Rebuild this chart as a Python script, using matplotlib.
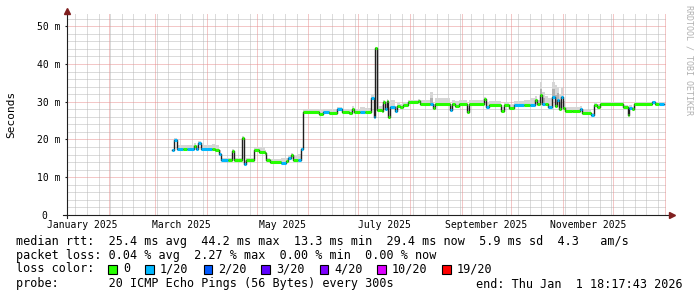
# -*- coding: utf-8 -*-
# smokeping style latency graph (last 360 days)
import numpy as np
import pandas as pd
import matplotlib
matplotlib.use('Agg')
import matplotlib.pyplot as plt
import matplotlib.dates as mdates
from matplotlib.patches import Rectangle

plt.rcParams['font.family'] = ['DejaVu Sans Mono']

# day = days since 2025-01-01 where a median level starts
day = [69.4, 70.6, 72.4, 76.0, 78.4, 82.1, 83.3, 84.5, 86.3, 92.9,
       94.7, 97.1, 98.3, 102.5, 104.9, 106.1, 110.9, 112.1, 113.3, 118.1,
       121.1, 124.7, 125.3, 127.7, 134.3, 137.3, 138.5, 140.3, 141.5, 145.1,
       146.9, 148.1,
       157.7, 160.1, 163.7, 168.5, 171.5, 175.7, 177.5, 178.7, 181.8, 184.8,
       188.4, 190.2, 190.8, 192.0, 195.0, 195.6, 196.8, 198.0, 198.6, 199.8,
       202.8, 204.0, 205.8, 207.6, 210.6, 216.6, 217.8, 223.8, 225.6, 226.8,
       235.8, 237.0, 238.8, 241.2, 246.6, 247.8, 256.8, 258.0, 259.8, 267.0,
       268.8, 271.8, 274.8, 280.8, 283.9, 286.9, 288.1, 289.9, 291.1, 292.9,
       294.7, 297.1, 298.9, 300.1, 301.3, 302.5, 303.7, 304.9, 309.1, 313.9,
       315.1, 320.5, 322.3, 324.1, 325.9, 339.7, 342.7, 343.9, 345.7, 346.9,
       357.7, 359.5, 361.9]
end_day = 364.9

# median rtt in ms
median_ms = [17.2, 19.8, 17.6, 17.6, 17.6, 18.3, 17.6, 19.1, 17.6, 17.6,
             17.3, 16.1, 14.5, 14.5, 16.9, 14.5, 20.5, 13.4, 14.5, 17.1,
             16.8, 16.3, 14.5, 14.1, 13.9, 14.3, 15.0, 15.9, 14.5, 14.5,
             17.4, 27.2,
             26.8, 27.2, 27.0, 28.0, 27.2, 27.0, 28.2, 27.2, 27.3, 27.3,
             31.1, 26.0, 44.1, 27.8, 27.6, 30.0, 28.0, 30.1, 26.0, 28.5,
             27.6, 28.9, 28.5, 29.2, 29.8, 30.2, 29.5, 29.5, 28.3, 29.5,
             27.8, 29.5, 29.0, 29.5, 27.3, 29.5, 30.6, 28.7, 29.2, 27.5,
             29.2, 28.3, 29.2, 29.2, 29.2, 30.4, 29.5, 31.7, 29.5, 29.5,
             28.6, 31.3, 29.0, 30.5, 28.0, 31.3, 28.3, 27.6, 27.5, 28.0,
             27.1, 26.5, 29.2, 28.7, 29.5, 28.7, 26.5, 28.3, 28.0, 29.5,
             29.8, 29.5, 29.5]

# lost pings out of 20
lost = [1, 1, 1, 0, 1, 0, 1, 1, 1, 0,
        0, 1, 1, 0, 0, 0, 0, 1, 0, 0,
        0, 0, 0, 0, 1, 0, 1, 0, 0, 1,
        1, 0,
        0, 1, 0, 1, 0, 0, 0, 0, 1, 0,
        1, 1, 0, 0, 0, 0, 1, 0, 0, 1,
        1, 0, 0, 0, 0, 0, 0, 1, 0, 0,
        1, 0, 0, 0, 0, 0, 0, 1, 0, 0,
        0, 0, 1, 0, 1, 0, 0, 0, 1, 0,
        1, 1, 0, 1, 0, 1, 0, 0, 0, 1,
        0, 1, 0, 0, 0, 0, 0, 1, 0, 0,
        1, 0, 1]

# spread of the other pings above the median (smoke), ms
smoke_ms = [0.3, 0.5, 1.0, 1.0, 1.0, 0.8, 1.0, 0.6, 1.0, 1.2,
            1.2, 1.0, 0.6, 0.5, 0.5, 0.6, 0.4, 0.8, 0.6, 1.0,
            1.2, 0.9, 0.5, 0.8, 1.2, 0.9, 0.8, 0.5, 1.0, 1.6,
            0.5, 0.8,
            1.0, 0.8, 1.2, 0.6, 1.0, 0.8, 0.6, 1.0, 1.3, 1.0,
            0.6, 0.8, 0.4, 1.0, 1.5, 0.5, 1.5, 0.5, 1.5, 2.0,
            1.2, 1.0, 0.8, 0.8, 0.6, 0.6, 1.0, 3.0, 1.0, 1.5,
            1.2, 1.0, 1.2, 1.0, 1.0, 1.0, 0.6, 1.2, 1.0, 1.2,
            0.8, 1.2, 1.0, 1.2, 1.8, 1.2, 1.0, 3.5, 3.0, 2.0,
            2.5, 4.0, 5.5, 3.5, 4.0, 2.5, 2.0, 1.0, 1.0, 0.8,
            0.8, 0.6, 0.6, 0.8, 0.4, 0.5, 0.5, 0.8, 0.5, 0.4,
            0.4, 0.4, 0.4]

loss_levels = ['0', '1/20', '2/20', '3/20', '4/20', '10/20', '19/20']
loss_colors = ['#26ff00', '#00b8ff', '#0059ff', '#5e00ff', '#7e00ff', '#dd00ff', '#ff0000']

month_labels = ['January 2025', 'March 2025', 'May 2025', 'July 2025',
                'September 2025', 'November 2025']
y_ticks = [0, 10, 20, 30, 40, 50]
y_labels = ['0  ', '10 m', '20 m', '30 m', '40 m', '50 m']

rtt_line = 'median rtt:  25.4 ms avg  44.2 ms max  13.3 ms min  29.4 ms now  5.9 ms sd  4.3   am/s'
loss_line = 'packet loss: 0.04 % avg  2.27 % max  0.00 % min  0.00 % now'
probe_line = 'probe:       20 ICMP Echo Pings (56 Bytes) every 300s'
end_text = 'end: Thu Jan  1 18:17:43 2026'

W, H = 697, 297
fig = plt.figure(figsize=(W / 100, H / 100), dpi=100)
fig.patch.set_facecolor('white')

# plot area in pixels
px_left, px_bottom, px_w, px_h = 66.5, 215, 599.4, 202
ax = fig.add_axes([px_left / W, (H - px_bottom) / H, px_w / W, px_h / H])
ax.set_facecolor('white')

base = mdates.date2num(pd.Timestamp('2025-01-01'))
t_end = mdates.date2num(pd.Timestamp('2026-01-01 18:17:43'))
t_start = t_end - 360

# dotted grid, 1px on / 1px off
grid_c, mgrid_c = '#b8b8b8', '#e89090'
gkw = dict(lw=0.72, dashes=(1, 1))
months = mdates.date2num(pd.date_range('2025-02-01', '2026-01-01', freq='MS'))
weeks = mdates.date2num(pd.date_range('2025-01-05', '2026-01-01', freq='W-SUN'))
for w in weeks:
    if w not in months:
        ax.axvline(w, color=grid_c, zorder=0, **gkw)
for yv in np.arange(2, 54, 2):
    if yv % 10:
        ax.axhline(yv, color=grid_c, zorder=0, **gkw)
for m in months:
    ax.axvline(m, color=mgrid_c, zorder=0.5, **gkw)
for yv in y_ticks[1:]:
    ax.axhline(yv, color=mgrid_c, zorder=0.5, **gkw)

# smoke + median
xs = np.array(day + [end_day]) + base
med = np.array(median_ms)
smk = np.array(smoke_ms)
med_e = np.append(med, med[-1])
smk_e = np.append(smk, smk[-1])
ax.fill_between(xs, med_e - 0.3, med_e + smk_e, step='post', color='#d6d6d6', lw=0, zorder=1)
dark = np.where(smk_e >= 3, med_e + smk_e * 0.5, med_e)
ax.fill_between(xs, med_e, dark, step='post', color='#b0b0b0', lw=0, zorder=1.1)
ax.step(xs, med_e, where='post', color='#202020', lw=1.0, zorder=2)
ax.hlines(med, xs[:-1], xs[1:], colors=[loss_colors[l] for l in lost], lw=2.2, zorder=3)

ax.set_xlim(t_start, t_end)
ax.set_ylim(0, 53.5)
for s in ax.spines.values():
    s.set_visible(False)

# month labels centred in their month
lab_pos = []
for name in month_labels:
    m0 = pd.Timestamp(name)
    lab_pos.append(mdates.date2num(m0) + m0.days_in_month / 2)
ax.set_xticks(lab_pos)
ax.set_xticklabels(month_labels, fontsize=7)
ax.tick_params(axis='x', length=0, pad=3.3)
ax.set_yticks(y_ticks)
ax.set_yticklabels(y_labels, fontsize=7)
ax.tick_params(axis='y', length=1.6, width=0.8, color='#1f1f1f', pad=3.0)

# axes with arrows
axis_c, arrow_c = '#1f1f1f', '#801f1f'
ax.plot([-4 / px_w, 1 + 3 / px_w], [0, 0], transform=ax.transAxes,
        color=axis_c, lw=0.8, clip_on=False, zorder=5)
ax.plot([0, 0], [-3 / px_h, 1], transform=ax.transAxes,
        color=axis_c, lw=0.8, clip_on=False, zorder=5)
ax.plot([1 + 6 / px_w], [0], marker='>', ms=4.2, color=arrow_c, mec=arrow_c,
        transform=ax.transAxes, clip_on=False, zorder=6)
ax.plot([0], [1 + 2 / px_h], marker='^', ms=4.2, color=arrow_c, mec=arrow_c,
        transform=ax.transAxes, clip_on=False, zorder=6)

fig.text(11 / W, 1 - 114 / H, 'Seconds', rotation=90, fontsize=8,
         ha='center', va='center')
fig.text(689 / W, 1 - 5 / H, 'RRDTOOL / TOBI OETIKER', rotation=270,
         fontsize=6, color='#b0b0b0', ha='center', va='top')


def row(text, x, y):
    fig.text(x / W, 1 - y / H, text, fontsize=8.5, ha='left', va='center')


row(rtt_line, 16.5, 241)
row(loss_line, 16.5, 255)
row('loss color:', 16.5, 269)
for lv, c, x in zip(loss_levels, loss_colors, [108, 145, 203.5, 261, 319.5, 377, 442]):
    fig.patches.append(Rectangle((x / W, 1 - 273.5 / H), 8.5 / W, 8.5 / H,
                                 transform=fig.transFigure, facecolor=c,
                                 edgecolor='black', lw=0.8))
    row(lv, x + 15, 269)
row(probe_line, 16.5, 284)
row(end_text, 476, 284)

fig.savefig('out.png', dpi=100, facecolor='white')
